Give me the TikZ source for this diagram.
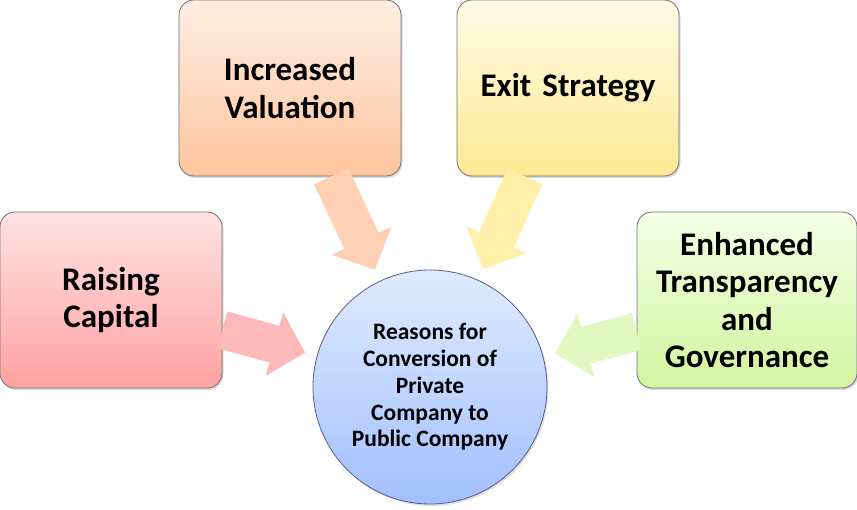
\documentclass[tikz,border=0pt]{standalone}
\usepackage{fontspec}
\setmainfont{Carlito}
\usetikzlibrary{arrows.meta,shadows}
\definecolor{raisetop}{HTML}{FFE2E2}
\definecolor{raisebot}{HTML}{FFA2A2}
\definecolor{raisearr}{HTML}{FFB9B9}
\definecolor{valtop}{HTML}{FFEEE3}
\definecolor{valbot}{HTML}{FFC59E}
\definecolor{valarr}{HTML}{FFD0B3}
\definecolor{exittop}{HTML}{FFFCE6}
\definecolor{exitbot}{HTML}{FFE994}
\definecolor{exitarr}{HTML}{FFEFA8}
\definecolor{govtop}{HTML}{F3FFE6}
\definecolor{govbot}{HTML}{D3F5A0}
\definecolor{govarr}{HTML}{E2F8C2}
\definecolor{hubtop}{HTML}{E0EBFF}
\definecolor{hubbot}{HTML}{A2C0FF}
\definecolor{rim}{HTML}{707070}

\begin{document}
\begin{tikzpicture}[x=1pt,y=1pt,
  reason/.style={draw=rim,line width=0.8pt,rounded corners=15pt,
    minimum width=222pt,minimum height=176pt,text width=210pt,align=center,
    font=\fontsize{33}{37.5}\selectfont\bfseries,
    drop shadow={opacity=0.3,shadow xshift=1.5pt,shadow yshift=-2pt}},
  hub/.style={circle,draw=rim!80!blue,line width=0.8pt,minimum size=234pt,
    inner sep=0pt,align=center,top color=hubtop,bottom color=hubbot,
    font=\fontsize{23.5}{26.7}\selectfont\bfseries,
    drop shadow={opacity=0.25,shadow xshift=1.5pt,shadow yshift=-2pt}},
  push/.style={line width=38pt,shorten >=12pt,
    -{Triangle[length=32pt,width=64pt]}}]
  \useasboundingbox (0,0) rectangle (857,509);

  % the four reasons
  \node[reason,top color=raisetop,bottom color=raisebot] (rc) at (111,209) {Raising\\Capital};
  \node[reason,top color=valtop,bottom color=valbot] (iv) at (290,421) {Increased\\Valuation};
  \node[reason,top color=exittop,bottom color=exitbot] (ex) at (568,421) {Exit Strategy};
  \node[reason,minimum width=220pt,top color=govtop,bottom color=govbot] (tg) at (747,209)
    {Enhanced\\Transparency\\and\\Governance};

  % centre circle
  \node[hub] (ctr) at (430,122)
    {Reasons for\\Conversion of\\Private\\Company to\\Public Company};

  % block arrows into the centre
  \draw[push,raisearr] (rc.-15) -- (ctr);
  \draw[push,valarr] (iv.-65) -- (ctr);
  \draw[push,exitarr] (ex.-116) -- (ctr);
  \draw[push,govarr] (tg.196) -- (ctr);
\end{tikzpicture}
\end{document}
